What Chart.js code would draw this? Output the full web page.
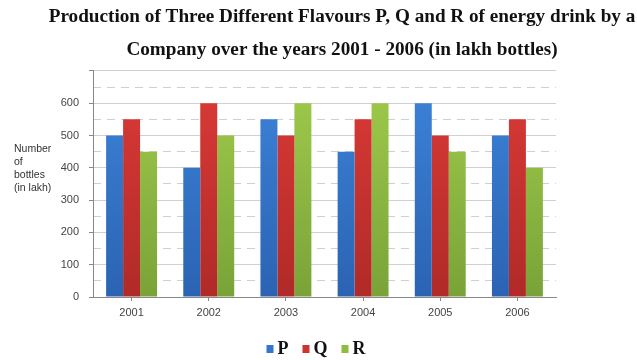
<!DOCTYPE html>
<html>
<head>
<meta charset="utf-8">
<script src="https://cdn.jsdelivr.net/npm/chart.js@4/dist/chart.umd.min.js"></script>
<style>
  html, body { margin: 0; padding: 0; background: #fff; }
  #wrap { width: 637px; height: 360px; position: relative; }
</style>
</head>
<body>
<div id="wrap"><canvas id="myChart" width="637" height="360"></canvas></div>
<script>
var years = ['2001', '2002', '2003', '2004', '2005', '2006'];
var prodP = [500, 400, 550, 450, 600, 500];
var prodQ = [550, 600, 500, 550, 500, 550];
var prodR = [450, 500, 600, 600, 450, 400];
var yTicks = [0, 100, 200, 300, 400, 500, 600];
var yMax = 700;
var titleLines = ['Production of Three Different Flavours P, Q and R of energy drink by a',
  'Company over the years 2001 - 2006 (in lakh bottles)'];
var axisLabel = ['Number', 'of', 'bottles', '(in lakh)'];
var legendColors = ['#3276d0', '#cc3432', '#8fbb42'];

var serif = '"Liberation Serif", "Times New Roman", serif';
var sans = '"Liberation Sans", Arial, sans-serif';

// vertical shading for each bar colour, light at top
function shade(top, bottom) {
  return function (c) {
    var area = c.chart.chartArea;
    if (!area) return top;
    var g = c.chart.ctx.createLinearGradient(0, area.top, 0, area.bottom);
    g.addColorStop(0, top);
    g.addColorStop(1, bottom);
    return g;
  };
}

// horizontal "Number of bottles" text left of the axis
var sideLabel = {
  id: 'sideLabel',
  afterDraw: function (chart) {
    var ctx = chart.ctx;
    ctx.save();
    ctx.font = '10.5px ' + sans;
    ctx.fillStyle = '#333';
    ctx.textAlign = 'left';
    ctx.textBaseline = 'middle';
    for (var i = 0; i < axisLabel.length; i++) {
      ctx.fillText(axisLabel[i], 14, 149 + i * 13);
    }
    ctx.restore();
  }
};

// compact legend row under the x axis: small square then bold letter
var keyRow = {
  id: 'keyRow',
  afterDraw: function (chart) {
    var ctx = chart.ctx;
    var sets = chart.data.datasets;
    ctx.save();
    ctx.font = 'bold 18px ' + serif;
    ctx.textBaseline = 'middle';
    var box = 7, gap = 4, space = 14;
    var total = 0;
    for (var i = 0; i < sets.length; i++) {
      total += box + gap + ctx.measureText(sets[i].label).width;
      if (i < sets.length - 1) total += space;
    }
    var x = 316 - total / 2;
    var y = 349;
    for (var j = 0; j < sets.length; j++) {
      ctx.fillStyle = legendColors[j];
      ctx.fillRect(x, y - 4, box, 8);
      x += box + gap;
      ctx.fillStyle = '#111';
      ctx.fillText(sets[j].label, x, y);
      x += ctx.measureText(sets[j].label).width + space;
    }
    ctx.restore();
  }
};

function drawdata() {
  const ctx = document.getElementById('myChart');

  new Chart(ctx, {
    type: 'bar',
    data: {
      labels: years,
      datasets: [
        { label: 'P', data: prodP, backgroundColor: shade('#3d84da', '#2b63b3') },
        { label: 'Q', data: prodQ, backgroundColor: shade('#dc3b38', '#b02a27') },
        { label: 'R', data: prodR, backgroundColor: shade('#a2cc4c', '#79a338') }
      ]
    },
    options: {
      responsive: false,
      animation: false,
      devicePixelRatio: 1,
      layout: { padding: { left: 47, right: 0, top: 0, bottom: 40 } },
      datasets: { bar: { categoryPercentage: 0.66, barPercentage: 1, borderWidth: 0 } },
      plugins: {
        title: {
          display: true,
          text: titleLines,
          color: '#111',
          font: { family: serif, size: 19.2, weight: 'bold', lineHeight: 1.69 },
          padding: { top: 1, bottom: 5 }
        },
        legend: { display: false },
        tooltip: { enabled: false }
      },
      scales: {
        x: {
          afterFit: function (scale) { scale.height = 23; },
          grid: { display: true, drawOnChartArea: false, offset: false, tickLength: 4, color: '#888' },
          border: { color: '#888' },
          ticks: { color: '#444', font: { family: sans, size: 11 }, padding: 5 }
        },
        y: {
          min: 0,
          max: yMax,
          afterFit: function (scale) { scale.width = 46; },
          afterBuildTicks: function (scale) {
            scale.ticks = yTicks.concat([yMax]).map(function (v) { return { value: v }; });
          },
          grid: { color: '#d0d0d0', tickColor: '#888', tickLength: 4 },
          border: { color: '#888' },
          ticks: {
            color: '#444',
            padding: 10,
            font: { family: sans, size: 11 },
            callback: function (v) { return yTicks.indexOf(v) >= 0 ? v : ''; }
          }
        },
        y2: {
          position: 'left',
          min: 0,
          max: yMax,
          afterFit: function (scale) { scale.width = 0; },
          afterBuildTicks: function (scale) {
            var t = [];
            for (var i = 0; i < yTicks.length; i++) t.push({ value: yTicks[i] + 50 });
            scale.ticks = t;
          },
          grid: { color: '#cfcfcf', drawTicks: false },
          border: { display: false, dash: [8, 6] },
          ticks: { display: false }
        },
        yRight: {
          position: 'right',
          min: 0,
          max: yMax,
          afterFit: function (scale) { scale.width = 81; },
          grid: { display: false },
          border: { display: false },
          ticks: { display: false }
        }
      }
    },
    plugins: [sideLabel, keyRow]
  });
}
drawdata();
</script>
</body>
</html>
